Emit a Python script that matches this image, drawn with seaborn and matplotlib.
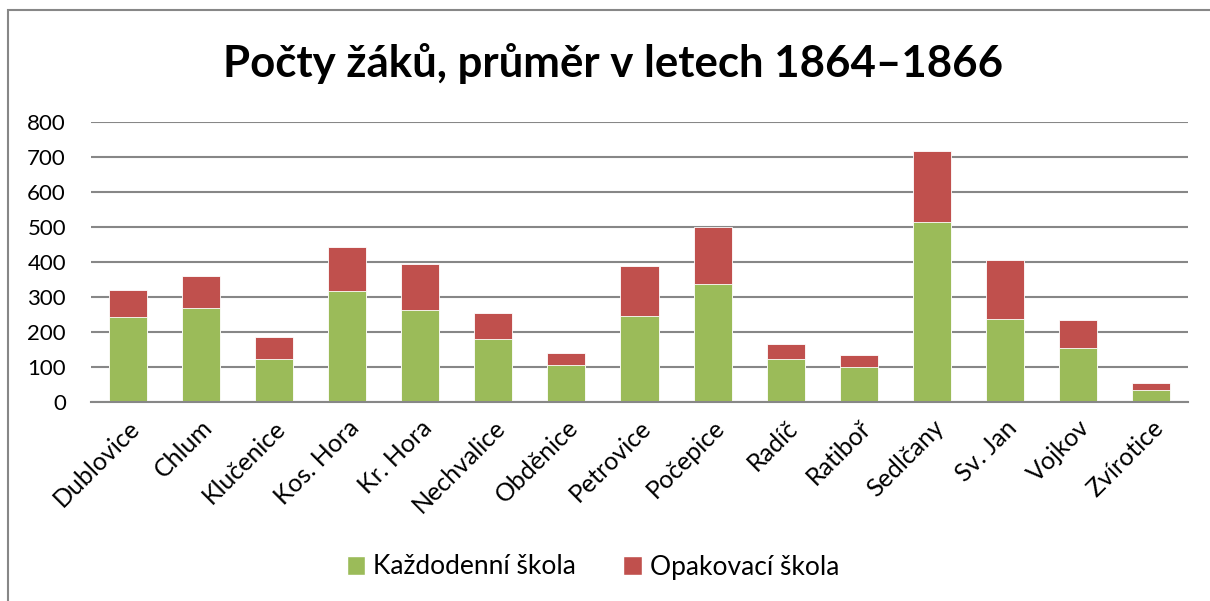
import numpy as np
import pandas as pd
import matplotlib
matplotlib.use("Agg")
import matplotlib.pyplot as plt
import seaborn as sns
from matplotlib.patches import Rectangle, Patch

# data
towns = ["Dublovice", "Chlum", "Klučenice", "Kos. Hora", "Kr. Hora", "Nechvalice",
         "Obděnice", "Petrovice", "Počepice", "Radíč", "Ratiboř", "Sedlčany",
         "Sv. Jan", "Vojkov", "Zvírotice"]
daily = [243, 269, 122, 316, 263, 180, 106, 247, 336, 122, 100, 513, 237, 153, 35]
repeat = [78, 91, 64, 127, 130, 75, 35, 143, 163, 44, 34, 204, 169, 81, 19]
y_ticks = [0, 100, 200, 300, 400, 500, 600, 700, 800]

green = "#9BBB59"
red = "#C0504D"
grid_col = "#878787"

df = pd.DataFrame({"town": towns, "daily": daily, "repeat": repeat})
df["total"] = df["daily"] + df["repeat"]

sns.set_style("white")
plt.rcParams["font.family"] = ["Lato", "DejaVu Sans"]
plt.rcParams["text.color"] = "black"
plt.rcParams["xtick.color"] = "black"
plt.rcParams["ytick.color"] = "black"

fig = plt.figure(figsize=(12.1, 6.01), dpi=100)
ax = fig.add_axes([91 / 1210, 1 - 402 / 601, (1188 - 91) / 1210, 280 / 601])

# stacked bars: total first (red), daily on top of it (green)
sns.barplot(data=df, x="town", y="total", color=red, width=0.52, saturation=1,
            edgecolor="white", linewidth=0.6, ax=ax)
sns.barplot(data=df, x="town", y="daily", color=green, width=0.52, saturation=1,
            edgecolor="white", linewidth=0.6, ax=ax)

ax.set_ylim(0, 800)
ax.set_xlim(-0.5, len(towns) - 0.5)
ax.set_yticks(y_ticks)
ax.set_axisbelow(True)
ax.yaxis.grid(True, color=grid_col, linewidth=1.5)
ax.set_xlabel("")
ax.set_ylabel("")
for s in ["top", "right", "left"]:
    ax.spines[s].set_visible(False)
ax.spines["bottom"].set_color(grid_col)
ax.spines["bottom"].set_linewidth(1.5)
ax.tick_params(axis="y", length=0, pad=18, labelsize=16)
ax.tick_params(axis="x", length=0, pad=10, labelsize=18)
plt.setp(ax.get_xticklabels(), rotation=45, ha="right", rotation_mode="anchor")

fig.text(0.507, 1 - 63 / 601, "Počty žáků, průměr v letech 1864–1866",
         ha="center", va="center", fontsize=31.5, fontweight="bold")

handles = [Patch(facecolor=green, label="Každodenní škola"),
           Patch(facecolor=red, label="Opakovací škola")]
fig.legend(handles=handles, loc="center", bbox_to_anchor=(0.49, 1 - 567 / 601),
           ncol=2, frameon=False, fontsize=19, handlelength=0.7, handleheight=0.7,
           handletextpad=0.3, columnspacing=1.8)

# outer chart border (right/bottom edges fall off the image)
fig.patches.append(Rectangle((8 / 1210, -0.05), 1.2, 1.05 - 10 / 601,
                             transform=fig.transFigure, fill=False,
                             edgecolor=grid_col, linewidth=1.5))

fig.savefig("out.png", dpi=100)
